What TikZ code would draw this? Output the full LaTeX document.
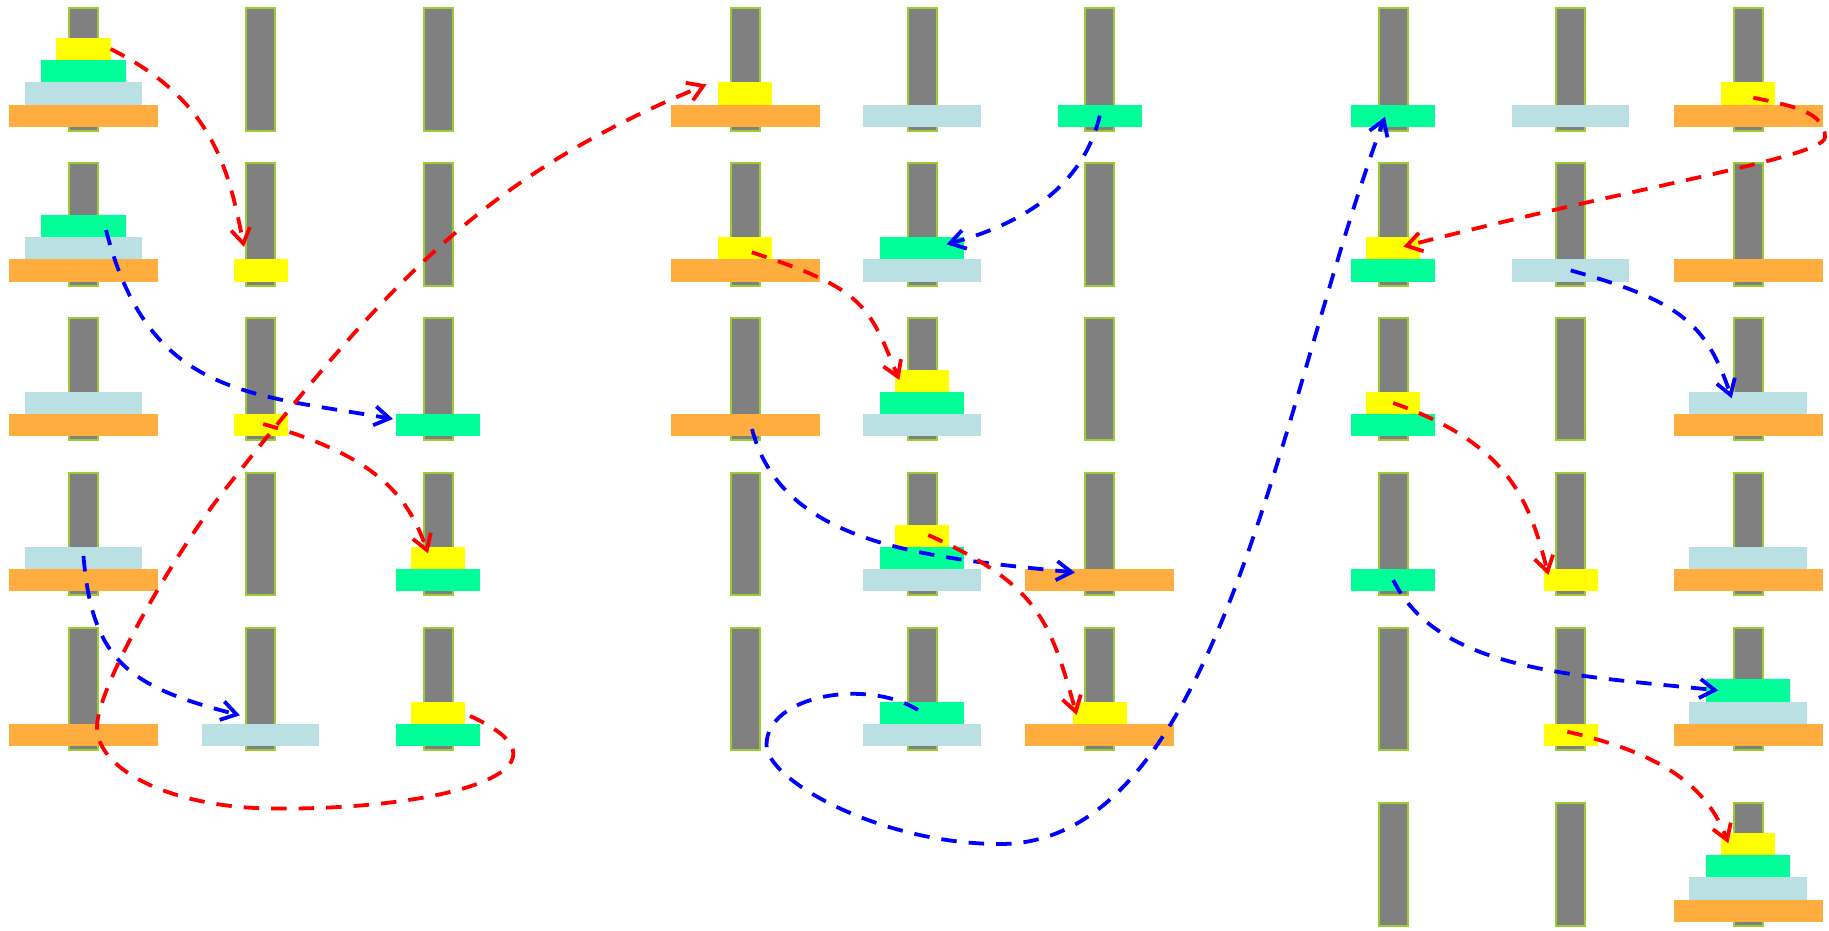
\documentclass[tikz,border=0pt]{standalone}
\usetikzlibrary{arrows.meta,calc}

\definecolor{peggray}{HTML}{808080}
\definecolor{pegedge}{HTML}{9ACD32}
\definecolor{diskyellow}{HTML}{FFFF00}
\definecolor{diskgreen}{HTML}{00FF99}
\definecolor{diskblue}{HTML}{BBE0E3}
\definecolor{diskorange}{HTML}{FFAD3F}

\tikzset{
  peg/.style={rectangle, draw=pegedge, fill=peggray, line width=2pt,
    minimum width=29pt, minimum height=122.4pt, inner sep=0pt, outer sep=0pt, anchor=south},
  disk/.style={rectangle, draw=none, inner sep=0pt, outer sep=0pt,
    minimum height=22.2pt, anchor=south},
  disk1/.style={disk, fill=diskyellow, minimum width=54.3pt},
  disk2/.style={disk, fill=diskgreen,  minimum width=84.5pt},
  disk3/.style={disk, fill=diskblue,   minimum width=117.5pt},
  disk4/.style={disk, fill=diskorange, minimum width=149pt},
  move/.style={line width=3.8pt, dash pattern=on 15.5pt off 12pt,
    -{Straight Barb[length=15pt,width=19pt]}},
  oddmove/.style={move, draw=red},
  evenmove/.style={move, draw=blue},
}

% three pegs of one state: #1 state, #2-#4 peg x, #5 base line
\newcommand\pegs[5]{%
  \node[peg] (p#1a) at (#2,{#5+4}) {};
  \node[peg] (p#1b) at (#3,{#5+4}) {};
  \node[peg] (p#1c) at (#4,{#5+4}) {};}
% one disk: #1 name, #2 size, #3 x, #4 base line, #5 level on the peg
\newcommand\hdisk[5]{\node[disk#2] (#1) at (#3,{#4-22.2*#5}) {};}

\begin{document}
\begin{tikzpicture}[x=1pt,y=-1pt]
\useasboundingbox (0,0) rectangle (1829,930);

% pegs
\pegs{0}{83.5}{260.7}{438.2}{126.7}
\pegs{1}{83.5}{260.7}{438.2}{281.5}
\pegs{2}{83.5}{260.7}{438.2}{436.3}
\pegs{3}{83.5}{260.7}{438.2}{591.1}
\pegs{4}{83.5}{260.7}{438.2}{745.9}
\pegs{5}{745}{922.2}{1099.8}{126.7}
\pegs{6}{745}{922.2}{1099.8}{281.5}
\pegs{7}{745}{922.2}{1099.8}{436.3}
\pegs{8}{745}{922.2}{1099.8}{591.1}
\pegs{9}{745}{922.2}{1099.8}{745.9}
\pegs{10}{1393.2}{1570.7}{1748}{126.7}
\pegs{11}{1393.2}{1570.7}{1748}{281.5}
\pegs{12}{1393.2}{1570.7}{1748}{436.3}
\pegs{13}{1393.2}{1570.7}{1748}{591.1}
\pegs{14}{1393.2}{1570.7}{1748}{745.9}
\pegs{15}{1393.2}{1570.7}{1748}{921.7}

% disks, state by state
\hdisk{d0-4}{4}{83.5}{126.7}{0}\hdisk{d0-3}{3}{83.5}{126.7}{1}
\hdisk{d0-2}{2}{83.5}{126.7}{2}\hdisk{d0-1}{1}{83.5}{126.7}{3}

\hdisk{d1-4}{4}{83.5}{281.5}{0}\hdisk{d1-3}{3}{83.5}{281.5}{1}
\hdisk{d1-2}{2}{83.5}{281.5}{2}\hdisk{d1-1}{1}{260.7}{281.5}{0}

\hdisk{d2-4}{4}{83.5}{436.3}{0}\hdisk{d2-3}{3}{83.5}{436.3}{1}
\hdisk{d2-1}{1}{260.7}{436.3}{0}\hdisk{d2-2}{2}{438.2}{436.3}{0}

\hdisk{d3-4}{4}{83.5}{591.1}{0}\hdisk{d3-3}{3}{83.5}{591.1}{1}
\hdisk{d3-2}{2}{438.2}{591.1}{0}\hdisk{d3-1}{1}{438.2}{591.1}{1}

\hdisk{d4-4}{4}{83.5}{745.9}{0}\hdisk{d4-3}{3}{260.7}{745.9}{0}
\hdisk{d4-2}{2}{438.2}{745.9}{0}\hdisk{d4-1}{1}{438.2}{745.9}{1}

\hdisk{d5-4}{4}{745}{126.7}{0}\hdisk{d5-1}{1}{745}{126.7}{1}
\hdisk{d5-3}{3}{922.2}{126.7}{0}\hdisk{d5-2}{2}{1099.8}{126.7}{0}

\hdisk{d6-4}{4}{745}{281.5}{0}\hdisk{d6-1}{1}{745}{281.5}{1}
\hdisk{d6-3}{3}{922.2}{281.5}{0}\hdisk{d6-2}{2}{922.2}{281.5}{1}

\hdisk{d7-4}{4}{745}{436.3}{0}\hdisk{d7-3}{3}{922.2}{436.3}{0}
\hdisk{d7-2}{2}{922.2}{436.3}{1}\hdisk{d7-1}{1}{922.2}{436.3}{2}

\hdisk{d8-3}{3}{922.2}{591.1}{0}\hdisk{d8-2}{2}{922.2}{591.1}{1}
\hdisk{d8-1}{1}{922.2}{591.1}{2}\hdisk{d8-4}{4}{1099.8}{591.1}{0}

\hdisk{d9-3}{3}{922.2}{745.9}{0}\hdisk{d9-2}{2}{922.2}{745.9}{1}
\hdisk{d9-4}{4}{1099.8}{745.9}{0}\hdisk{d9-1}{1}{1099.8}{745.9}{1}

\hdisk{d10-2}{2}{1393.2}{126.7}{0}\hdisk{d10-3}{3}{1570.7}{126.7}{0}
\hdisk{d10-4}{4}{1748}{126.7}{0}\hdisk{d10-1}{1}{1748}{126.7}{1}

\hdisk{d11-2}{2}{1393.2}{281.5}{0}\hdisk{d11-1}{1}{1393.2}{281.5}{1}
\hdisk{d11-3}{3}{1570.7}{281.5}{0}\hdisk{d11-4}{4}{1748}{281.5}{0}

\hdisk{d12-2}{2}{1393.2}{436.3}{0}\hdisk{d12-1}{1}{1393.2}{436.3}{1}
\hdisk{d12-4}{4}{1748}{436.3}{0}\hdisk{d12-3}{3}{1748}{436.3}{1}

\hdisk{d13-2}{2}{1393.2}{591.1}{0}\hdisk{d13-1}{1}{1570.7}{591.1}{0}
\hdisk{d13-4}{4}{1748}{591.1}{0}\hdisk{d13-3}{3}{1748}{591.1}{1}

\hdisk{d14-1}{1}{1570.7}{745.9}{0}\hdisk{d14-4}{4}{1748}{745.9}{0}
\hdisk{d14-3}{3}{1748}{745.9}{1}\hdisk{d14-2}{2}{1748}{745.9}{2}

\hdisk{d15-4}{4}{1748}{921.7}{0}\hdisk{d15-3}{3}{1748}{921.7}{1}
\hdisk{d15-2}{2}{1748}{921.7}{2}\hdisk{d15-1}{1}{1748}{921.7}{3}

% way points of the long moves
\coordinate (w5a) at (275,808.5);
\coordinate (w5b) at (97,727);
\coordinate (w5c) at (224.6,490);
\coordinate (w10a) at (766.5,745);
\coordinate (w10b) at (1000,844);
\coordinate (w11a) at (1825,137);

% moves
\draw[oddmove] (d0-1.east) .. controls (212.4,99.75) and (228.8,168.6) .. ($(d1-1.center)+(-16.7,-23.4)$);
\draw[evenmove] ($(d1-2.center)+(22.5,4)$) .. controls (148.5,394.9) and (246,393.5) .. ($(d2-2.center)+(-45.2,-6.2)$);
\draw[oddmove] ($(d2-1.center)+(2.5,-1.2)$) .. controls (378.4,456.4) and (408.2,496.9) .. ($(d3-1.center)+(-10.2,-4.5)$);
\draw[evenmove] ($(d3-3.center)+(0,-1.8)$) .. controls (92,662) and (130,687) .. ($(d4-3.center)+(-20.7,-19.5)$);
\draw[oddmove] ($(d4-1.center)+(31.8,3.4)$) .. controls (590,770) and (440,810) .. (w5a)
  .. controls (176.7,808.5) and (97,772) .. (w5b)
  .. controls (97,687) and (175,552.4) .. (w5c)
  .. controls (385.8,287.2) and (476.7,179.3) .. ($(d5-1.center)+(-38.5,-8.9)$);
\draw[evenmove] (d5-2.center) .. controls (1081.7,191.9) and (1014.1,226.1) .. ($(d6-2.center)+(24.3,-3.9)$);
\draw[oddmove] ($(d6-1.center)+(6.8,4.1)$) .. controls (865.8,289.5) and (868.9,306.4) .. ($(d7-1.center)+(-22.9,-0.8)$);
\draw[evenmove] ($(d7-4.center)+(7,3.8)$) .. controls (782,545.4) and (926.5,557.5) .. ($(d8-4.center)+(-24.8,-7.5)$);
\draw[oddmove] ($(d8-1.center)+(6.1,-0.6)$) .. controls (1037.5,584.2) and (1049.7,619) .. ($(d9-1.center)+(-23.1,2.4)$);
\draw[evenmove] ($(d9-2.center)+(-4.2,-2.6)$) .. controls (867,678.2) and (766.5,695) .. (w10a)
  .. controls (766.5,780) and (880,844) .. (w10b)
  .. controls (1220,844) and (1280,398.7) .. ($(d10-2.center)+(-8.2,1.1)$);
\draw[oddmove] ($(d10-1.center)+(5.3,4.3)$) .. controls (1792,105.7) and (1825,112) .. (w11a)
  .. controls (1825,157) and (1645.8,184.2) .. ($(d11-1.center)+(10.1,-1.5)$);
\draw[evenmove] (d11-3.center) .. controls (1678.9,300.8) and (1706.1,322.3) .. ($(d12-3.center)+(-16.3,-4.7)$);
\draw[oddmove] (d12-1.center) .. controls (1506,442.9) and (1529.1,497.4) .. ($(d13-1.center)+(-22.4,-5)$);
\draw[evenmove] (d13-2.center) .. controls (1438,670) and (1569,675) .. ($(d14-2.center)+(-29.7,0)$);
\draw[oddmove] ($(d14-1.center)+(-3.4,-3.1)$) .. controls (1663.3,753.7) and (1707.3,786.9) .. ($(d15-1.center)+(-19.7,-0.7)$);
\end{tikzpicture}
\end{document}
